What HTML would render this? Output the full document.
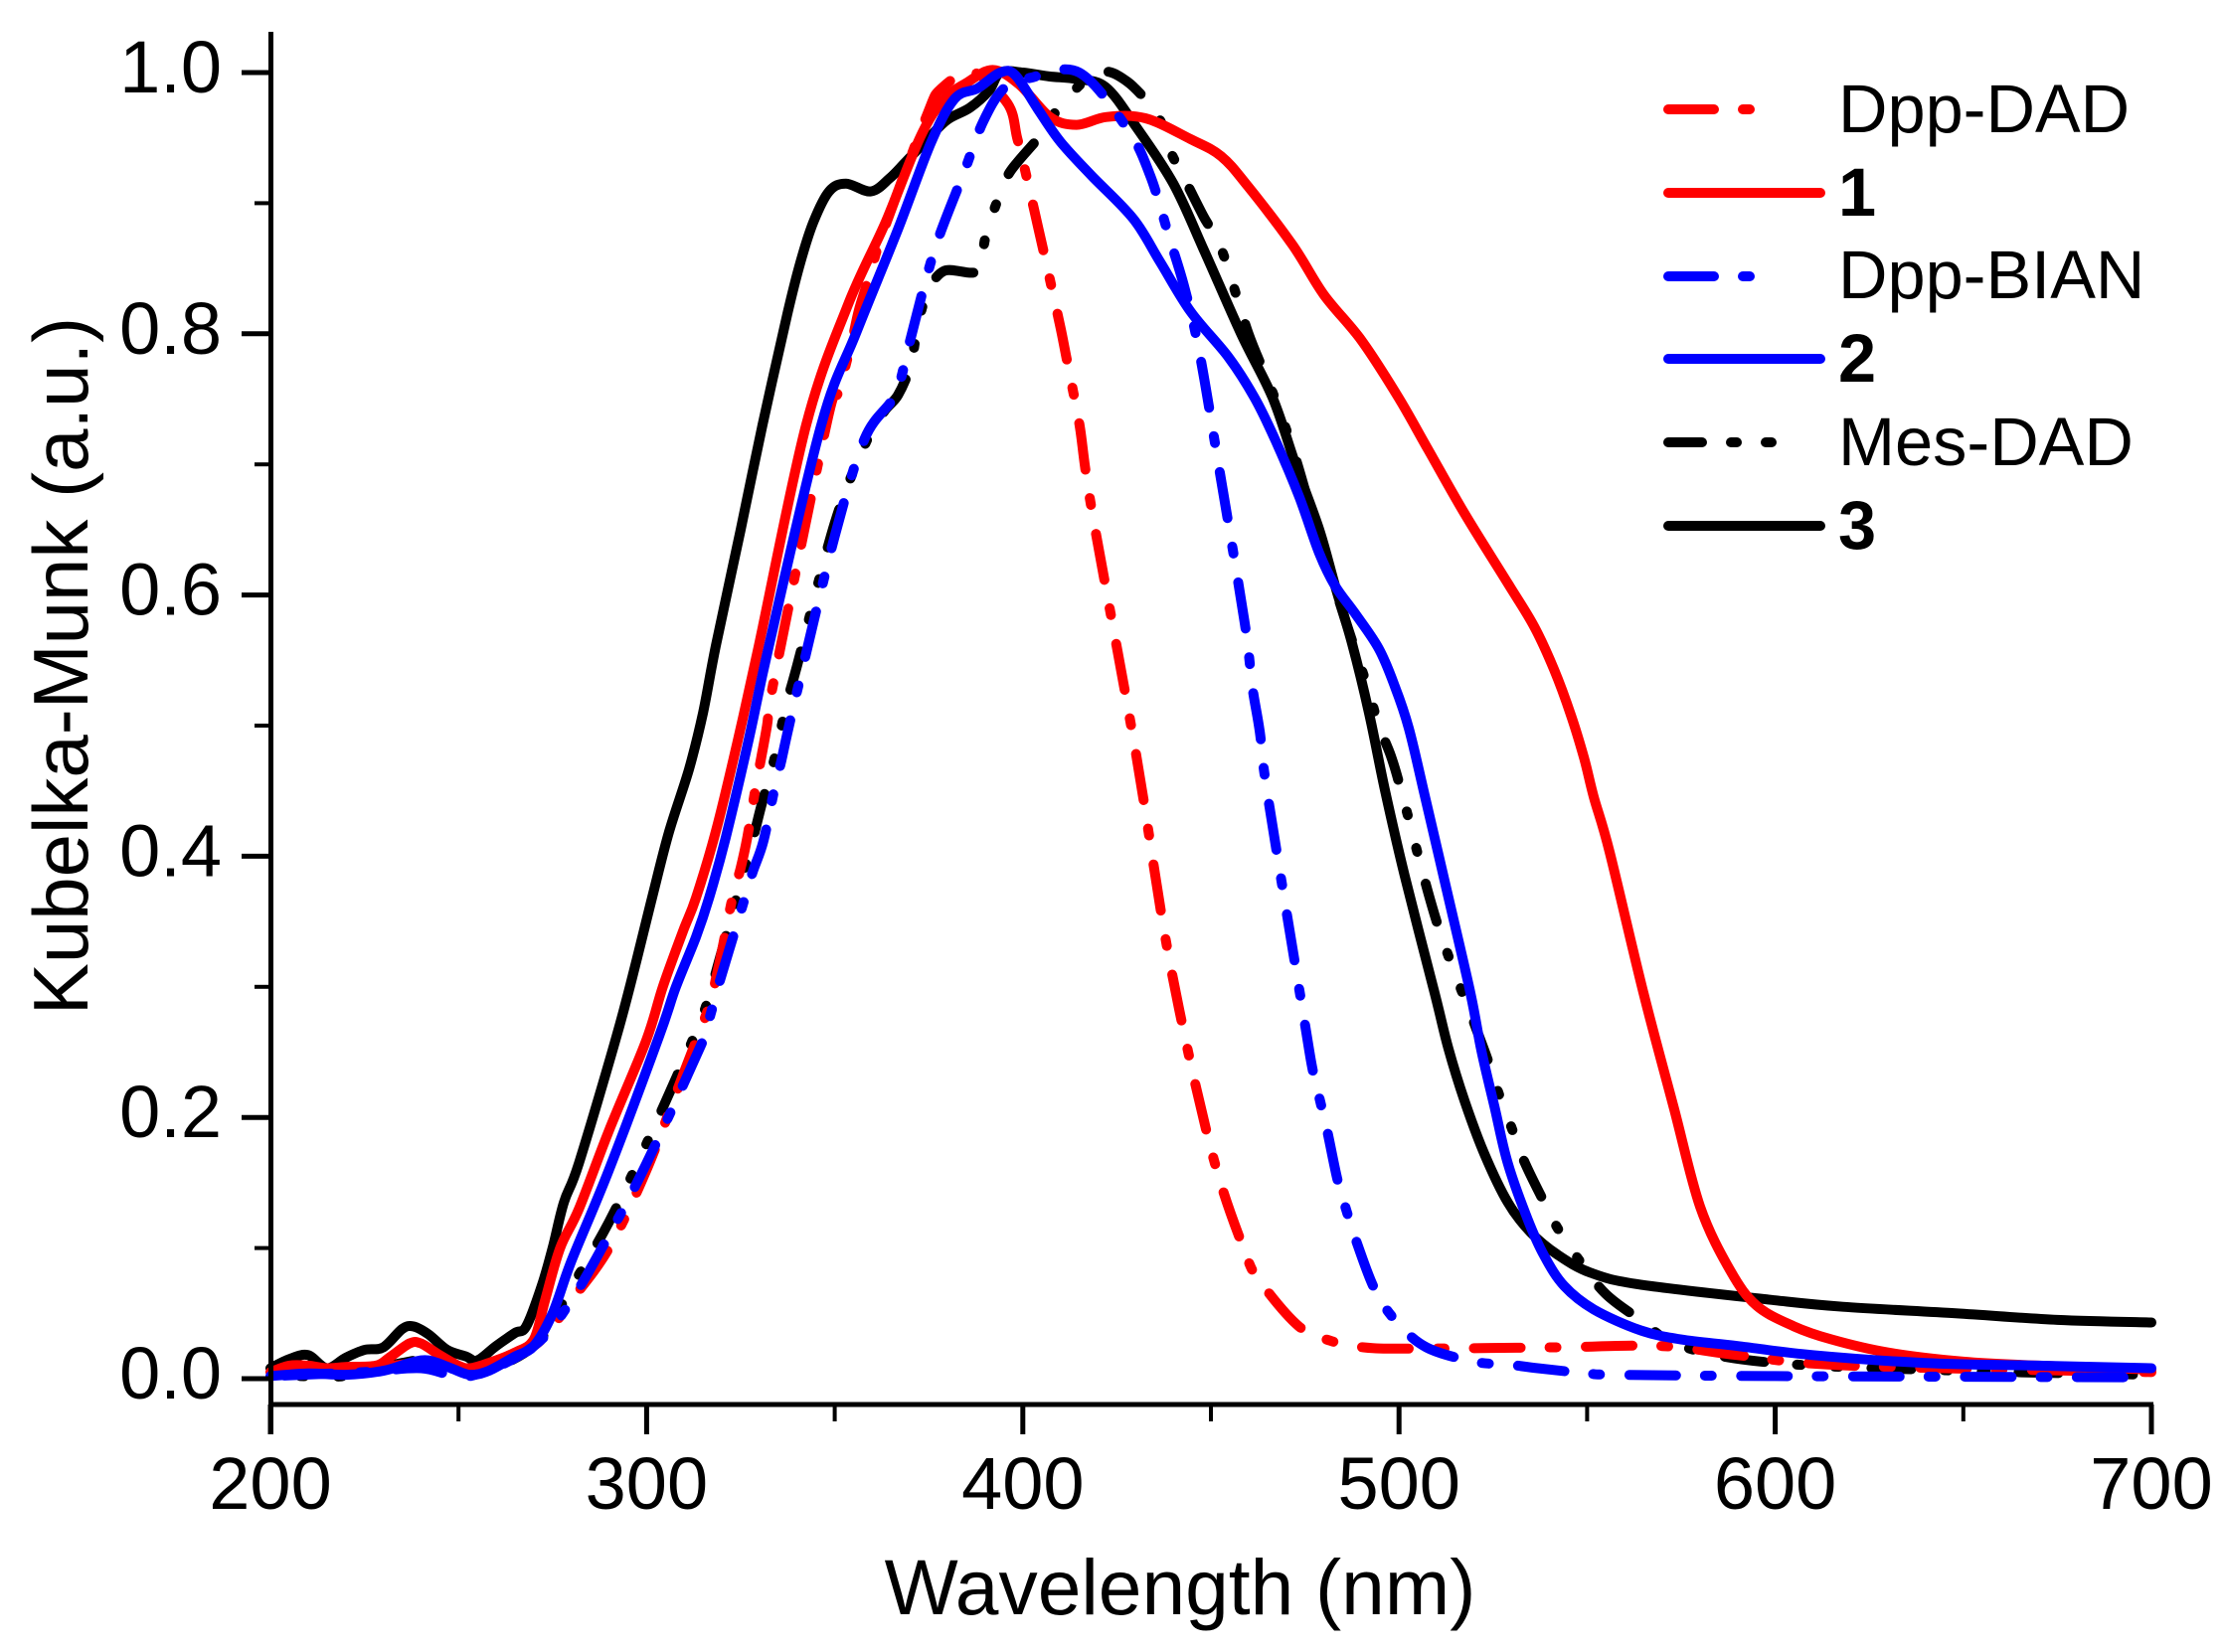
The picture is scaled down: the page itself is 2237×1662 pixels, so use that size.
<!DOCTYPE html>
<html lang="en">
<head>
<meta charset="utf-8">
<title>Kubelka-Munk spectra</title>
<style>
html,body{margin:0;padding:0;background:#fff;width:2237px;height:1662px;overflow:hidden}
svg{display:block}
text{font-family:"Liberation Sans",Arial,sans-serif;fill:#000}
.curve{fill:none;stroke-width:10;stroke-linecap:round;stroke-linejoin:round}
.lg{fill:none;stroke-width:10;stroke-linecap:round}
</style>
</head>
<body>
<svg id="chart" xmlns="http://www.w3.org/2000/svg" width="2237" height="1662" viewBox="0 0 2237 1662">
  <g id="curves"></g>
  <g id="axes"></g>
  <text x="1187" y="1624" font-size="78.5" text-anchor="middle">Wavelength (nm)</text>
  <text transform="translate(88,670) rotate(-90)" font-size="78" text-anchor="middle">Kubelka-Munk (a.u.)</text>
  <g>
    <g>
      <path class="lg" d="M1678 110H1836" stroke="#ff0000" stroke-dasharray="46 29 7 400"/>
      <text x="1849" y="133" font-size="68.5">Dpp-DAD</text>
    </g>
    <g>
      <path class="lg" d="M1678 194H1831" stroke="#ff0000"/>
      <text x="1849" y="217" font-size="68.5" font-weight="bold">1</text>
    </g>
    <g>
      <path class="lg" d="M1678 278H1836" stroke="#0000ff" stroke-dasharray="46 29 7 400"/>
      <text x="1849" y="300" font-size="68.5">Dpp-BIAN</text>
    </g>
    <g>
      <path class="lg" d="M1678 361H1831" stroke="#0000ff"/>
      <text x="1849" y="384" font-size="68.5" font-weight="bold">2</text>
    </g>
    <g>
      <path class="lg" d="M1678 445H1836" stroke="#000000" stroke-dasharray="34 29 6 29 6 400"/>
      <text x="1849" y="468" font-size="68.5">Mes-DAD</text>
    </g>
    <g>
      <path class="lg" d="M1678 529H1831" stroke="#000000"/>
      <text x="1849" y="552" font-size="68.5" font-weight="bold">3</text>
    </g>
  </g>
</svg>
<script>
var xTickLabels = ['200', '300', '400', '500', '600', '700'];
var xMinorTicks = [250, 350, 450, 550, 650];
var yTickLabels = ['0.0', '0.2', '0.4', '0.6', '0.8', '1.0'];
var yMinorTicks = [0.1, 0.3, 0.5, 0.7, 0.9];

var wavelengths3 = [200,205,210,215,220,225,230,235,238,242,247,252,255,260,265,268,272,275,278,282,292,297.3,301.7,306,311.3,315,318.4,325,330.8,337.4,340.9,344.4,348.5,353,359.6,364.6,369,375,380,385.9,391,394,400,407,414.3,422,430,440,448,458,466.4,472.5,478.8,483,487.5,492,496.3,501.5,509.5,513.1,517.5,522.7,528.9,535,542.1,551,564.2,600,618,648,675,700];
var values3 = [0.008,0.015,0.018,0.008,0.016,0.022,0.024,0.038,0.04,0.034,0.022,0.017,0.014,0.025,0.035,0.04,0.07,0.1,0.135,0.165,0.262,0.32,0.371,0.419,0.467,0.51,0.561,0.65,0.73,0.815,0.855,0.886,0.909,0.915,0.909,0.919,0.932,0.95,0.964,0.973,0.986,1,1,0.997,0.995,0.989,0.959,0.915,0.865,0.8,0.751,0.7,0.65,0.607,0.563,0.51,0.45,0.385,0.295,0.253,0.212,0.172,0.135,0.112,0.095,0.081,0.072,0.06,0.055,0.05,0.045,0.043];

var wavelengthsMes = [200,220,235,245,253,270,280,290,300,312.2,316,318.8,325.8,328.4,330.7,333.4,335.3,337.4,340,350,358,363,366.8,370.2,371.8,374.3,379,388,390,393,396.6,405,410.6,420,427.8,436,439,443.6,448,453,460,466.4,472.5,479.6,483,485.7,488.9,491.8,494.6,497.8,500.7,510,520,523.6,526.3,529.8,533.2,537.7,542,547.8,554.9,564.2,575,600,650,700];
var valuesMes = [0.003,0.002,0.012,0.015,0.003,0.025,0.07,0.12,0.18,0.259,0.287,0.315,0.388,0.415,0.441,0.468,0.492,0.519,0.546,0.655,0.715,0.74,0.753,0.776,0.802,0.829,0.848,0.848,0.873,0.9,0.924,0.953,0.977,1,0.993,0.966,0.941,0.915,0.89,0.863,0.8,0.755,0.705,0.633,0.605,0.581,0.553,0.528,0.5,0.477,0.449,0.35,0.272,0.244,0.22,0.193,0.167,0.14,0.116,0.091,0.065,0.045,0.025,0.012,0.006,0.003];

var wavelengthsDad = [200,220,240,253,270,280,290,300,310,316.6,318.4,320.2,322.8,325,326.8,329,330.5,332,334.2,348,351,354.6,356.6,359.7,362.5,374.3,378.4,387,396,398.5,400.6,403,405.6,407.7,410,411.7,413.3,415.2,418.4,430,439,450,458.9,463.2,473.4,481.8,490.6,502.9,541,570,590,620,700];
var valuesDad = [0.005,0.005,0.012,0.005,0.025,0.06,0.1,0.16,0.235,0.285,0.306,0.33,0.368,0.391,0.415,0.453,0.476,0.5,0.54,0.733,0.756,0.795,0.82,0.848,0.875,0.966,0.988,1,0.976,0.95,0.925,0.895,0.862,0.835,0.805,0.78,0.757,0.728,0.664,0.48,0.32,0.176,0.098,0.074,0.04,0.029,0.024,0.023,0.024,0.025,0.018,0.01,0.005];

var wavelengths1 = [200,205,210,215,220,228,232,237,240,245,250,253,258,265,270,273,277,282,290,299.9,304.3,309.6,313.1,318.4,324.1,329.8,342.4,353.5,363.6,372.8,378.9,385,392,399,407.2,414.3,422.3,432.6,444.6,452.7,459.8,471.7,480,490,499.9,507.8,517.5,528.9,535.9,541.2,545.7,549.2,551.8,556,565,573,580,588,595,605,615,630,650,670,700];
var values1 = [0.005,0.01,0.01,0.008,0.009,0.01,0.017,0.027,0.027,0.018,0.01,0.008,0.012,0.02,0.03,0.06,0.1,0.13,0.19,0.259,0.3,0.342,0.368,0.419,0.487,0.561,0.73,0.822,0.886,0.951,0.979,0.992,1.002,0.991,0.966,0.96,0.966,0.965,0.949,0.936,0.913,0.868,0.83,0.795,0.751,0.711,0.662,0.609,0.576,0.543,0.508,0.475,0.445,0.403,0.295,0.208,0.132,0.083,0.056,0.04,0.03,0.02,0.013,0.01,0.007];

var wavelengthsBian = [200,225,240,253,270,280,290,300,315,317,319.2,321.8,325.8,328.2,331,333.8,335.8,337.7,340.8,350,358,366,369.6,374,377.8,384.4,389.4,395,402,415,428,434,439,443,447,452,458.9,461,463,465,474.8,477,478.9,480.9,483.6,486,488.8,493.6,499.2,507.3,520,528.5,536.9,550,558,600,700];
var valuesBian = [0.002,0.005,0.008,0.002,0.025,0.06,0.11,0.165,0.259,0.279,0.302,0.327,0.365,0.388,0.411,0.449,0.473,0.498,0.536,0.645,0.72,0.753,0.79,0.839,0.875,0.924,0.962,0.988,0.996,1,0.956,0.92,0.873,0.835,0.785,0.7,0.58,0.53,0.495,0.448,0.275,0.237,0.214,0.19,0.153,0.129,0.104,0.068,0.044,0.024,0.013,0.011,0.008,0.004,0.003,0.002,0.001];

var wavelengths2 = [200,210,220,230,237,242,248,253,258,265,270,275,280,290,303.3,307.8,313.1,316.6,321,327.2,332.5,346.4,355.6,366.8,375.7,381.9,388,394,398,404,410,418.3,429.4,436.5,444.6,454.7,461.6,467.2,473.5,478.8,483,488.3,494.6,498.9,502.6,506.8,513,519,521.9,525.4,528.9,534.2,538.6,543.9,551.8,564.2,575,590,610,640,670,700];
var values2 = [0.002,0.004,0.003,0.006,0.012,0.014,0.008,0.003,0.006,0.017,0.025,0.05,0.09,0.16,0.262,0.3,0.338,0.368,0.414,0.49,0.561,0.73,0.8,0.88,0.947,0.98,0.988,1,0.998,0.972,0.947,0.921,0.888,0.855,0.817,0.782,0.751,0.718,0.675,0.632,0.607,0.586,0.559,0.53,0.498,0.447,0.37,0.295,0.251,0.208,0.165,0.122,0.094,0.071,0.053,0.037,0.03,0.025,0.018,0.012,0.01,0.008];

var SVGNS = 'http://www.w3.org/2000/svg';
function xScale(n) { return 272 + 3.784 * (n - 200); }
function yScale(v) { return 1387 - 1314 * v; }

function smoothPath(xs, ys) {
  var pts = xs.map(function (n, i) { return [xScale(n), yScale(ys[i])]; });
  var d = 'M' + pts[0][0].toFixed(1) + ' ' + pts[0][1].toFixed(1);
  for (var i = 0; i < pts.length - 1; i++) {
    var p0 = pts[Math.max(i - 1, 0)], p1 = pts[i], p2 = pts[i + 1], p3 = pts[Math.min(i + 2, pts.length - 1)];
    var c1x = p1[0] + (p2[0] - p0[0]) / 6, c1y = p1[1] + (p2[1] - p0[1]) / 6;
    var c2x = p2[0] - (p3[0] - p1[0]) / 6, c2y = p2[1] - (p3[1] - p1[1]) / 6;
    d += 'C' + c1x.toFixed(1) + ' ' + c1y.toFixed(1) + ' ' + c2x.toFixed(1) + ' ' + c2y.toFixed(1) + ' ' + p2[0].toFixed(1) + ' ' + p2[1].toFixed(1);
  }
  return d;
}

/* Shift the dash pattern so a dot lands on a spot. */
function alignDash(path, anchorNm, anchorVal, dotPosition) {
  var ax = xScale(anchorNm), ay = yScale(anchorVal);
  var total = path.getTotalLength(), best = 0, bestD = Infinity;
  for (var s = 0; s <= total; s += 2) {
    var q = path.getPointAtLength(s);
    var dd = (q.x - ax) * (q.x - ax) + (q.y - ay) * (q.y - ay);
    if (dd < bestD) { bestD = dd; best = s; }
  }
  path.setAttribute('stroke-dashoffset', (dotPosition - best).toFixed(1));
}

var curves = document.getElementById('curves');
function addCurve(name, xs, ys, color, dash, anchorNm, anchorVal, dotPosition) {
  var p = document.createElementNS(SVGNS, 'path');
  p.setAttribute('class', 'curve');
  p.setAttribute('d', smoothPath(xs, ys));
  p.setAttribute('stroke', color);
  
  
  curves.appendChild(p);
  if (dash) {
    p.setAttribute('stroke-dasharray', dash);
    alignDash(p, anchorNm, anchorVal, dotPosition);
  }
}
var dashDot = '47 29 7 29.5';
var dashDotDot = '40 33 4 34 4 33';
addCurve('curve-3', wavelengths3, values3, '#000000', null);
addCurve('curve-mes-dad', wavelengthsMes, valuesMes, '#000000', dashDotDot, 542, 0.116, 75);
addCurve('curve-dpp-dad', wavelengthsDad, valuesDad, '#ff0000', dashDot, 481.8, 0.029, 79.5);
addCurve('curve-1', wavelengths1, values1, '#ff0000', null);
addCurve('curve-dpp-bian', wavelengthsBian, valuesBian, '#0000ff', dashDot, 486, 0.129, 79.5);
addCurve('curve-2', wavelengths2, values2, '#0000ff', null);

var axes = document.getElementById('axes');
function addLine(name, x1, y1, x2, y2, w) {
  var l = document.createElementNS(SVGNS, 'line');
  l.setAttribute('x1', x1);
  l.setAttribute('y1', y1);
  l.setAttribute('x2', x2);
  l.setAttribute('y2', y2);
  l.setAttribute('stroke', '#000');
  l.setAttribute('stroke-width', w);
  
  
  axes.appendChild(l);
}
function addLabel(name, x, y, anchor, str) {
  var t = document.createElementNS(SVGNS, 'text');
  t.setAttribute('x', x);
  t.setAttribute('y', y);
  t.setAttribute('font-size', '74');
  t.setAttribute('text-anchor', anchor);
  t.textContent = str;
  
  
  axes.appendChild(t);
}
addLine('y-axis-line', 272.5, 32, 272.5, 1443, 5);
addLine('x-axis-line', 270, 1413, 2166, 1413, 5);
xTickLabels.forEach(function (lab) {
  var px = xScale(Number(lab));
  addLine('x-tick-' + lab, px, 1413, px, 1443, 5);
  addLabel('x-tick-label-' + lab, px, 1518, 'middle', lab);
});
xMinorTicks.forEach(function (n) {
  var px = xScale(n);
  addLine('x-minor-tick-' + n, px, 1413, px, 1430, 4);
});
yTickLabels.forEach(function (lab) {
  var py = yScale(Number(lab));
  addLine('y-tick-' + lab, 243, py, 272, py, 5);
  addLabel('y-tick-label-' + lab, 223, py + 20, 'end', lab);
});
yMinorTicks.forEach(function (v) {
  var py = yScale(v);
  addLine('y-minor-tick-' + v, 256, py, 272, py, 4);
});
</script>
</body>
</html>
